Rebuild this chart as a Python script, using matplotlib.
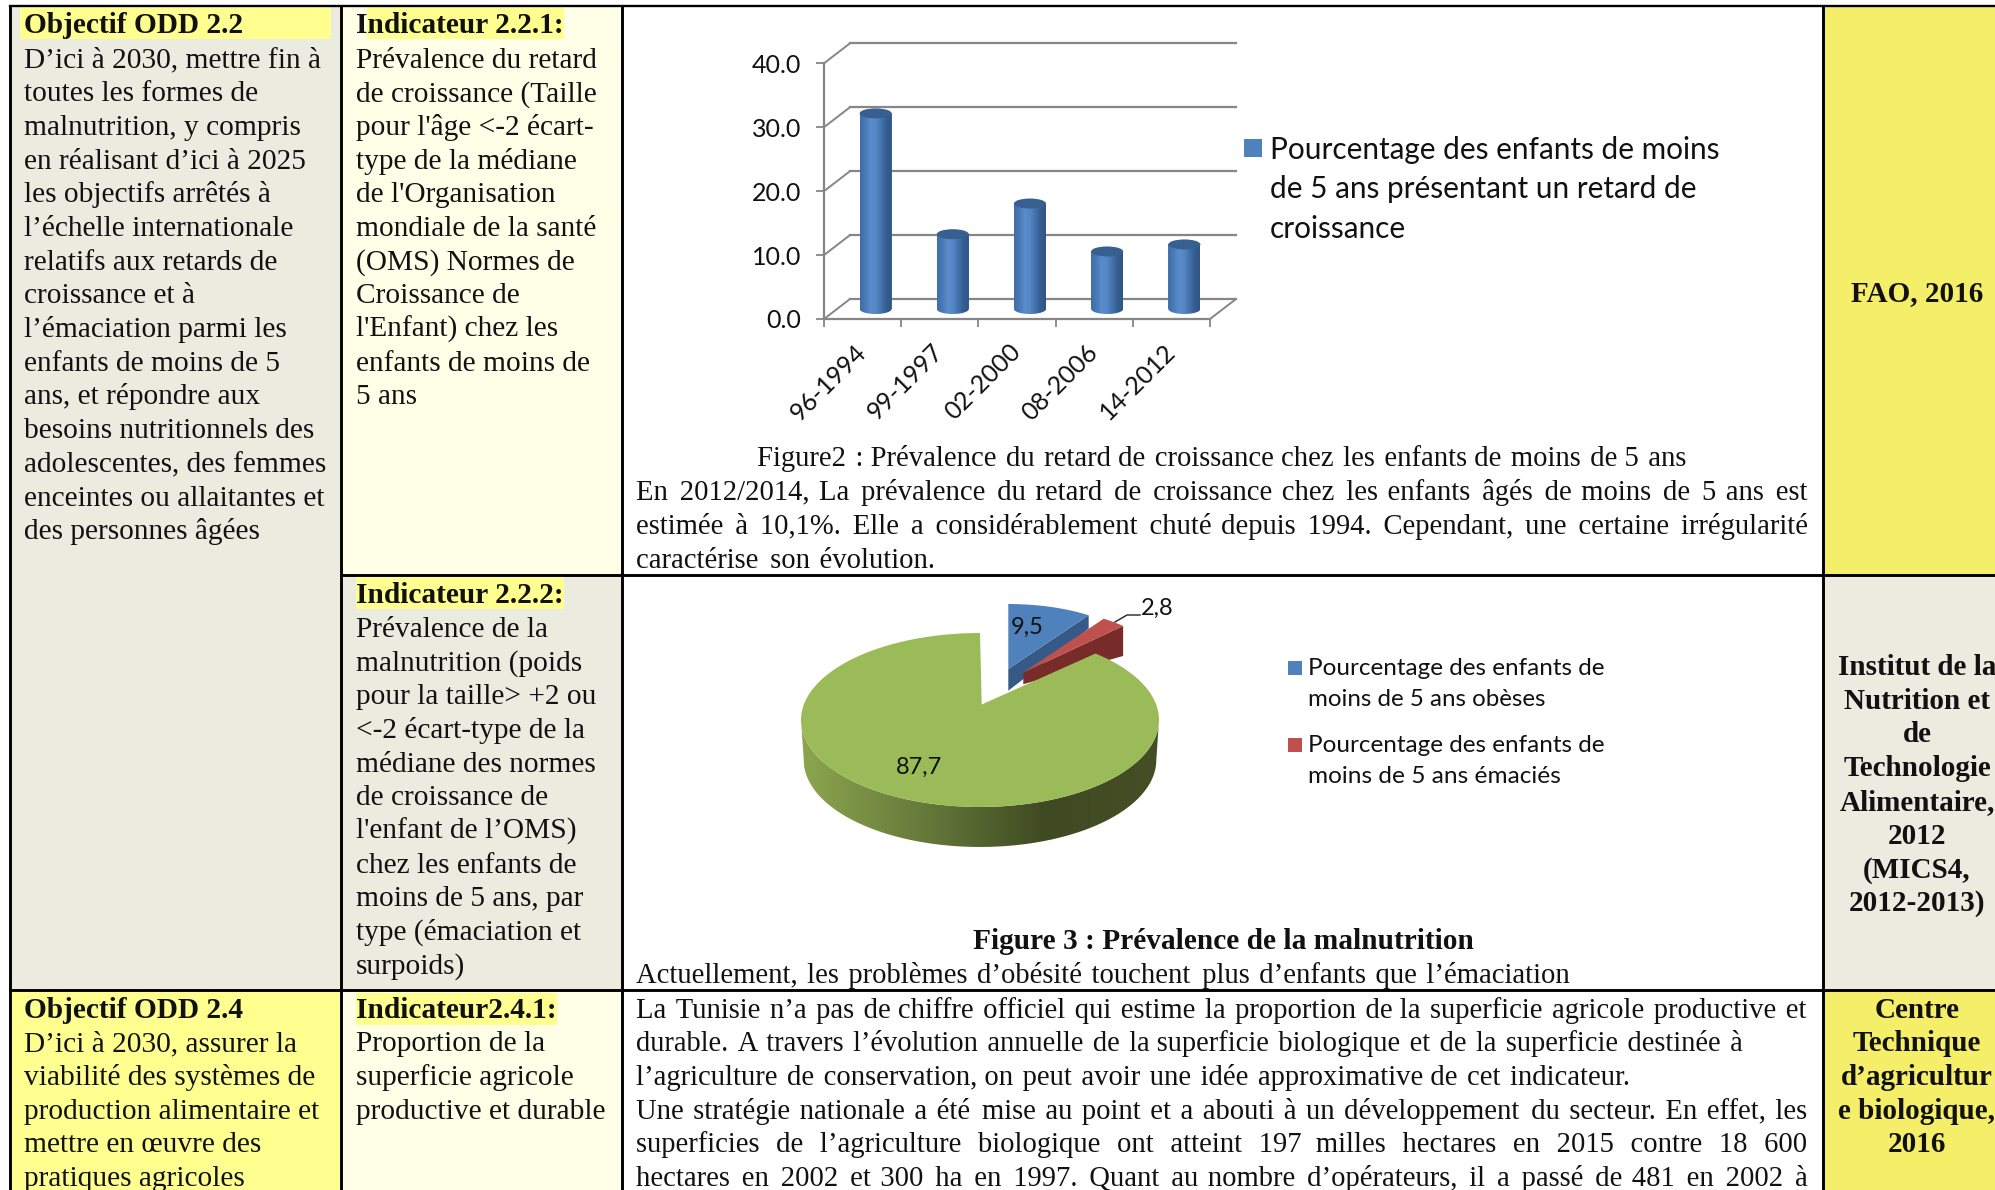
import numpy as np
import matplotlib
matplotlib.use("Agg")
import matplotlib.pyplot as plt
from matplotlib import font_manager as fm
from matplotlib.ft2font import FT2Font
from matplotlib.patches import Rectangle, Polygon, Ellipse, ConnectionPatch
from matplotlib.path import Path
from matplotlib.colors import LinearSegmentedColormap

W, H = 1995, 1190
SERIF = "Liberation Serif"
SANS = "Lato"

# ---- chart data ----
periods = ["96-1994", "99-1997", "02-2000", "08-2006", "14-2012"]
stunting = [30.6, 11.7, 16.5, 9.0, 10.1]
y_ticks = [0, 10, 20, 30, 40]
pie_values = [9.5, 2.8, 87.7]
pie_labels = ["9,5", "2,8", "87,7"]
legend_bar = ["Pourcentage des enfants de moins", "de 5 ans présentant un retard de", "croissance"]
legend_pie_a = ["Pourcentage des enfants de", "moins de 5 ans obèses"]
legend_pie_b = ["Pourcentage des enfants de", "moins de 5 ans émaciés"]

# ---- table text ----
obj22 = ["D’ici à 2030, mettre fin à", "toutes les formes de", "malnutrition, y compris",
         "en réalisant d’ici à 2025", "les objectifs arrêtés à", "l’échelle internationale",
         "relatifs aux retards de", "croissance et à", "l’émaciation parmi les",
         "enfants de moins de 5", "ans, et répondre aux", "besoins nutritionnels des",
         "adolescentes, des femmes", "enceintes ou allaitantes et", "des personnes âgées"]
ind221 = ["Prévalence du retard", "de croissance (Taille", "pour l'âge <-2 écart-",
          "type de la médiane", "de l'Organisation", "mondiale de la santé",
          "(OMS) Normes de", "Croissance de", "l'Enfant) chez les",
          "enfants de moins de", "5 ans"]
ind222 = ["Prévalence de la", "malnutrition (poids", "pour la taille> +2 ou",
          "<-2 écart-type de la", "médiane des normes", "de croissance de",
          "l'enfant de l’OMS)", "chez les enfants de", "moins de 5 ans, par",
          "type (émaciation et", "surpoids)"]
obj24 = ["D’ici à 2030, assurer la", "viabilité des systèmes de",
         "production alimentaire et", "mettre en œuvre des", "pratiques agricoles"]
ind241 = ["Proportion de la", "superficie agricole", "productive et durable"]
para1 = [("En 2012/2014, La prévalence du retard de croissance chez les enfants âgés de moins de 5 ans est", 1421),
         ("estimée à 10,1%. Elle a considérablement chuté depuis 1994. Cependant, une certaine irrégularité", 1421),
         ("caractérise son évolution.", 735)]
para3 = [("La Tunisie n’a pas de chiffre officiel qui estime la proportion de la superficie agricole productive et", 1419),
         ("durable. A travers l’évolution annuelle de la superficie biologique et de la superficie destinée à", 1374),
         ("l’agriculture de conservation, on peut avoir une idée approximative de cet indicateur.", 1281),
         ("Une stratégie nationale a été mise au point et a abouti à un développement du secteur. En effet, les", 1421),
         ("superficies de l’agriculture biologique ont atteint 197 milles hectares en 2015 contre 18 600", 1421),
         ("hectares en 2002 et 300 ha en 1997. Quant au nombre d’opérateurs, il a passé de 481 en 2002 à", 1421)]
src1 = ["FAO, 2016"]
src2 = ["Institut de la", "Nutrition et", "de", "Technologie", "Alimentaire,", "2012", "(MICS4,", "2012-2013)"]
src3 = ["Centre", "Technique", "d’agricultur", "e biologique,", "2016"]

fig = plt.figure(figsize=(W / 100, H / 100), dpi=100, facecolor="white")
renderer = fig.canvas.get_renderer()


def ax_px(x0, y0, x1, y1, **kw):
    a = fig.add_axes([x0 / W, 1 - y1 / H, (x1 - x0) / W, (y1 - y0) / H], **kw)
    a.patch.set_visible(False)
    return a


main = ax_px(0, 0, W, H)
main.set_xlim(0, W)
main.set_ylim(H, 0)
main.axis("off")

GREY = "#ecebe0"
PALE = "#ffffe8"
YEL = "#ffff8f"
HL = "#ffff8f"
SRC = "#f5ee69"
X = [10, 341, 622, 1823, 1995]
Y = [6, 575, 990, 1190]
fills = [(X[0], Y[0], X[1], Y[2], GREY), (X[0], Y[2], X[1], Y[3], YEL),
         (X[1], Y[0], X[2], Y[1], PALE), (X[1], Y[1], X[2], Y[2], GREY),
         (X[1], Y[2], X[2], Y[3], PALE), (X[3], Y[0], X[4], Y[1], SRC),
         (X[3], Y[1], X[4], Y[2], GREY), (X[3], Y[2], X[4], Y[3], SRC)]
for x0, y0, x1, y1, c in fills:
    main.add_patch(Rectangle((x0, y0), x1 - x0, y1 - y0, fc=c, ec="none", zorder=0))
for x0, y0, x1, y1 in [(20, 7, 331, 39), (367, 7, 564, 39), (356, 577, 564, 609),
                       (356, 993, 557, 1025)]:
    main.add_patch(Rectangle((x0, y0), x1 - x0, y1 - y0, fc=HL, ec="none", zorder=1))
LW = 2.1
for x in X[:4]:
    main.plot([x, x], [Y[0], Y[3]], color="k", lw=LW, zorder=5, solid_capstyle="butt")
main.plot([X[0], W], [Y[0], Y[0]], color="k", lw=LW * 0.8, zorder=5)
main.plot([X[1], W], [Y[1]] * 2, color="k", lw=LW, zorder=5)
main.plot([X[0], W], [Y[2], Y[2]], color="k", lw=LW, zorder=5)

BASE = 21.2
PARA = 20.6
ft = FT2Font(fm.findfont(SERIF))
HAIR = "\u200a" if ft.get_char_index(0x200a) else None


def T(x, y, s, fit=None, bold=False, ha="left", family=SERIF, size=BASE, justify=False, **kw):
    t = main.text(x, y, s, ha=ha, va="baseline", family=family, size=size,
                  weight="bold" if bold else "normal", color="#111111", zorder=6, **kw)
    if fit is not None:
        w = t.get_window_extent(renderer).width
        if justify and HAIR and fit > w * 1.006 and " " in s:
            # widen the word spaces first, as justified text does
            t.set_text("a" + HAIR + "a")
            w1 = t.get_window_extent(renderer).width
            t.set_text("aa")
            hw = w1 - t.get_window_extent(renderer).width
            gaps = s.split(" ")
            n = len(gaps) - 1
            extra = int(round((fit - w) / max(hw, 0.5)))
            out = gaps[0]
            done = 0
            for i, g in enumerate(gaps[1:], 1):
                want = round(extra * i / n)
                out += " " + HAIR * (want - done) + g
                done = want
            t.set_text(out)
            w = t.get_window_extent(renderer).width
        t.set_fontsize(size * fit / w)
    return t


PITCH = 33.7
k = 1995 / 1568
T(24, 33.3, "Objectif ODD 2.2", bold=True)
for i, s in enumerate(obj22):
    T(24, 33.8 + PITCH * (i + 1), s)
T(356, 33.3, "Indicateur 2.2.1:", bold=True)
for i, s in enumerate(ind221):
    T(356, 33.8 + PITCH * (i + 1), s)
T(356, 603, "Indicateur 2.2.2:", bold=True)
for i, s in enumerate(ind222):
    T(356, 603 + PITCH * (i + 1), s)
T(24, 1017.5, "Objectif ODD 2.4", bold=True)
for i, s in enumerate(obj24):
    T(24, 1017.5 + PITCH * (i + 1), s)
T(356, 1017.5, "Indicateur2.4.1:", bold=True)
for i, s in enumerate(ind241):
    T(356, 1017.5 + PITCH * (i + 1), s)

T(757, 466.5, "Figure2 : Prévalence du retard de croissance chez les enfants de moins de 5 ans", fit=930, size=PARA, justify=True)
for i, (s, r) in enumerate(para1):
    T(636, 500.5 + 33.6 * i, s, fit=r * k - 636, size=PARA, justify=True)
T(1223, 949, "Figure 3 : Prévalence de la malnutrition", bold=True, ha="center", fit=500, size=PARA)
T(636, 983, "Actuellement, les problèmes d’obésité touchent plus d’enfants que l’émaciation", fit=934, size=PARA, justify=True)
for i, (s, r) in enumerate(para3):
    T(636, 1017.5 + PITCH * i, s, fit=r * k - 636, size=PARA, justify=True)

SRCX = 1917
T(SRCX, 301.5, src1[0], bold=True, ha="center", size=21)
for i, s in enumerate(src2):
    T(SRCX, 675 + PITCH * i, s, bold=True, ha="center", size=21)
for i, s in enumerate(src3):
    T(SRCX, 1017.5 + PITCH * i, s, bold=True, ha="center", size=21)

# ---- 3-D style column chart ----
AXC = "#868686"
XL, XR, Y0, Y40 = 824, 1210, 319, 63.3
DX, DY = 26, 20
upp = (Y0 - Y40) / 40

back = ax_px(XL + DX, Y40 - DY, XR + DX, Y0 - DY)
back.set_xlim(0, 5)
back.set_ylim(0, 40)
for s in back.spines.values():
    s.set_visible(False)
back.set_xticks([])
back.set_yticks(y_ticks)
back.tick_params(left=False, labelleft=False)
back.grid(axis="y", color=AXC, lw=1.6, clip_on=False)

front = ax_px(XL, Y40, XR, Y0)
front.set_xlim(0, 5)
front.set_ylim(0, 40)
for s in ["top", "right"]:
    front.spines[s].set_visible(False)
for s in ["left", "bottom"]:
    front.spines[s].set_color(AXC)
    front.spines[s].set_linewidth(1.6)
front.set_yticks(y_ticks)
front.set_yticklabels([f"{v:.1f}" for v in y_ticks], family=SANS, fontsize=18, color="#111111")
front.tick_params(axis="y", length=5.5, width=1.3, color=AXC, pad=11)
front.set_xticks(range(6))
front.set_xticklabels([])
front.tick_params(axis="x", which="major", length=5.5, width=1.3, color=AXC)
front.set_xticks(np.arange(5) + 0.5, minor=True)
front.set_xticklabels(periods, minor=True, rotation=45, ha="right", va="center",
                      rotation_mode="anchor", family=SANS, fontsize=18, color="#111111")
front.tick_params(axis="x", which="minor", length=0, pad=21)

for v in y_ticks:
    front.add_artist(ConnectionPatch(xyA=(0, v), coordsA=front.transData, xyB=(0, v),
                                     coordsB=back.transData, color=AXC, lw=1.4))
front.add_artist(ConnectionPatch(xyA=(5, 0), coordsA=front.transData, xyB=(5, 0),
                                 coordsB=back.transData, color=AXC, lw=1.4))

mid = ax_px(XL + DX / 2, Y40 - DY / 2, XR + DX / 2, Y0 - DY / 2 + 8 * upp)
mid.axis("off")
xs = np.arange(5) + 0.5
bw = 32 / ((XR - XL) / 5)
eh = 10 / upp
cmap_bar = LinearSegmentedColormap.from_list(
    "cyl", ["#406da5", "#4a7ab8", "#5a8ccb", "#5587c6", "#4373ad", "#355e90", "#2f5583"])
mid.bar(xs, stunting, width=bw, color="#4a7ab8", zorder=2)
grad = np.linspace(0, 1, 64)[None, :]
for x, v in zip(xs, stunting):
    im = mid.imshow(grad, cmap=cmap_bar, extent=[x - bw / 2, x + bw / 2, -eh, v],
                    aspect="auto", zorder=3)
    th = np.linspace(np.pi, 2 * np.pi, 40)
    arc = np.c_[x + bw / 2 * np.cos(th), eh / 2 * np.sin(th)]
    poly = np.vstack([[x - bw / 2, v], arc, [x + bw / 2, v], [x - bw / 2, v]])
    im.set_clip_path(Path(poly), transform=mid.transData)
    mid.add_patch(Ellipse((x, v), bw, eh, fc="#375f90", ec="none", zorder=4))
mid.set_xlim(0, 5)
mid.set_ylim(-8, 40)

main.add_patch(Rectangle((1244, 139), 18, 18, fc="#4f81bd", ec="none", zorder=6))
for s, y, f in zip(legend_bar, [159, 198, 238], [448, 426, 136]):
    T(1270, y, s, family=SANS, size=18, fit=f)

# ---- 3-D style pie ----
cx, cy, a, b = 980, 720, 179, 87
pie = ax_px(cx - 1.5 * a, cy - 1.5 * b, cx + 1.5 * a, cy + 1.5 * b)
pie.axis("off")


def ux(px):
    return (px - cx) / a


def uy(py):
    return (cy - py) / b


ends = 360 * np.cumsum(pie_values) / np.sum(pie_values)
starts = np.r_[0, ends[:-1]]


def rim(t0, t1, c=(0, 0), sx=1.0, sy=1.0, n=160):
    t = np.radians(np.linspace(t0, t1, n))
    return np.c_[c[0] + sx * np.sin(t), c[1] + sy * np.cos(t)]


vis0 = 360 - (360 - starts[2]) * 1.013
gv = (ux(981.7), uy(704.5))
depth = 40 / b
# green side wall
t0 = rim(90, 270)
t1 = rim(90, 270, sx=0.985)
t1[:, 1] -= depth
side = np.vstack([t0, t1[::-1]])
cmap_side = LinearSegmentedColormap.from_list("side", [(0, "#8ca64e"), (0.35, "#65793a"), (0.68, "#3f4a22"), (1, "#444f26")])
im = pie.imshow(np.linspace(0, 1, 256)[None, :], cmap=cmap_side, extent=[-1, 1, -1.6, 0.2], aspect="auto", zorder=2)
im.set_clip_path(Path(np.vstack([side, side[:1]])), transform=pie.transData)

# blue slice
bv = (ux(1008.3), uy(669))
sx, sy = 143 / a, 65 / b
bend = rim(starts[0], ends[0], bv, sx, sy)
pie.add_patch(Polygon([bv, bend[-1], (bend[-1][0], bend[-1][1] - 13.3 / b), (bv[0], bv[1] - 21.7 / b)],
                      fc="#355a85", ec="none", zorder=3))
pie.add_patch(Polygon(np.vstack([[bv], bend]), fc="#4f81bd", ec="none", zorder=4))
# red slice
rv = (ux(1023.3), uy(672.5))
rend = rim(starts[1], ends[1], rv, sx, sy)
pie.add_patch(Polygon([rv, rend[-1], (rend[-1][0], rend[-1][1] - 30 / b), (rv[0], rv[1] - 11.7 / b)],
                      fc="#772c2a", ec="none", zorder=5))
pie.add_patch(Polygon(np.vstack([[rv], rend]), fc="#c0504d", ec="none", zorder=6))
# green top
pie.add_patch(Polygon(np.vstack([[gv], rim(vis0, 360)]), fc="#9bbb59", ec="none", zorder=7))
pie.set_xlim(-1.5, 1.5)
pie.set_ylim(-1.5, 1.5)

pie.text(ux(1027), uy(627), pie_labels[0], ha="center", va="center", family=SANS, fontsize=17, color="#111111", zorder=8)
pie.text(ux(1157), uy(608), pie_labels[1], ha="center", va="center", family=SANS, fontsize=17, color="#111111", zorder=8)
pie.text(ux(919), uy(767), pie_labels[2], ha="center", va="center", family=SANS, fontsize=17, color="#111111", zorder=8)
pie.plot([ux(1115), ux(1127), ux(1140)], [uy(622), uy(615), uy(615)], color="#222222", lw=1, zorder=8, clip_on=False)

for y, c, lines, w2 in [(668, "#4f81bd", legend_pie_a, 238), (745, "#c0504d", legend_pie_b, 252)]:
    main.add_patch(Rectangle((1288, y - 7), 14, 14, fc=c, ec="none", zorder=6))
    for j, s in enumerate(lines):
        T(1308, y + 7 + j * 31, s, family=SANS, size=15, fit=297 if j == 0 else w2)

fig.savefig("out.png", dpi=100)
